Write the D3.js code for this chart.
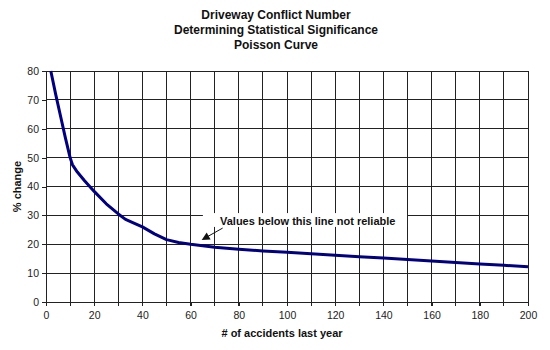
<!DOCTYPE html>
<html><head><meta charset="utf-8">
<script src="https://cdn.jsdelivr.net/npm/d3@7"></script>
<style>body{margin:0;background:#fff;} text{font-family:"Liberation Sans",Arial,sans-serif;}</style>
</head><body>
<svg id="c" width="550" height="350"></svg>
<script>
const titleLines = ["Driveway Conflict Number","Determining Statistical Significance","Poisson Curve"];
const xLabel = "# of accidents last year";
const yLabel = "% change";
const annotationText = "Values below this line not reliable";
const accidents = [2,4,6,8,10,11,13,16,20,25,30,33,36,40,45,50,55,60,70,80,90,100,110,120,130,140,150,160,170,180,190,200];
const pctChange = [80,72,64.5,57,50,47.5,45,42,38.3,34,30.5,28.6,27.5,26,23.6,21.6,20.6,20,19,18.3,17.7,17.2,16.7,16.2,15.7,15.2,14.7,14.2,13.7,13.2,12.7,12.2];
const xTicks = d3.range(0,201,20);
const yTicks = d3.range(0,81,10);
const xGrid = d3.range(0,201,10);
const yGrid = d3.range(0,81,10);

const svg = d3.select("#c");
const x = d3.scaleLinear().domain([0,200]).range([46,528]);
const y = d3.scaleLinear().domain([0,80]).range([302,71]);

// title
svg.append("g").selectAll("text").data(titleLines).join("text")
  .attr("x",276).attr("y",(d,i)=>19+i*15).attr("text-anchor","middle")
  .attr("font-size",12).attr("font-weight","bold").attr("fill","#111").text(d=>d);

// grid
const g = svg.append("g");
g.selectAll(".vg").data(xGrid.slice(1)).join("line")
  .attr("x1",d=>x(d)).attr("x2",d=>x(d)).attr("y1",y(80)).attr("y2",y(0))
  .attr("stroke","#222").attr("stroke-width",1).attr("shape-rendering","crispEdges");
g.selectAll(".hg").data(yGrid.slice(1)).join("line")
  .attr("x1",x(0)).attr("x2",x(200)).attr("y1",d=>y(d)).attr("y2",d=>y(d))
  .attr("stroke","#222").attr("stroke-width",1).attr("shape-rendering","crispEdges");

// axes
const xa = svg.append("g").attr("transform",`translate(0,${y(0)})`)
  .call(d3.axisBottom(x).tickValues(xTicks).tickSize(4).tickPadding(6).tickSizeOuter(0));
const ya = svg.append("g").attr("transform",`translate(${x(0)},0)`)
  .call(d3.axisLeft(y).tickValues(yTicks).tickSize(4).tickPadding(3).tickSizeOuter(0));
[xa,ya].forEach(a=>{
  a.selectAll("text").attr("font-size",10.5).attr("fill","#222").attr("font-family","Liberation Sans, Arial, sans-serif");
  a.selectAll("line,path").attr("stroke","#222").attr("shape-rendering","crispEdges");
});
// minor x ticks at every 10
svg.append("g").selectAll("line").data(xGrid).join("line")
  .attr("x1",d=>x(d)).attr("x2",d=>x(d)).attr("y1",y(0)).attr("y2",y(0)+4)
  .attr("stroke","#222").attr("shape-rendering","crispEdges");

// labels
svg.append("text").attr("x",282).attr("y",337).attr("text-anchor","middle")
  .attr("font-size",11).attr("font-weight","bold").attr("fill","#111").text(xLabel);
svg.append("text").attr("transform",`translate(21,${(y(0)+y(80))/2}) rotate(-90)`)
  .attr("text-anchor","middle").attr("font-size",11).attr("font-weight","bold").attr("fill","#111").text(yLabel);

// curve
const line = d3.line().x((d,i)=>x(accidents[i])).y(d=>y(d));
svg.append("path").datum(pctChange).attr("d",line)
  .attr("fill","none").attr("stroke","#000080").attr("stroke-width",3).attr("stroke-linejoin","round");

// annotation
svg.append("rect").attr("x",x(65.1)).attr("y",y(30.8)).attr("width",x(149.8)-x(65.1)).attr("height",y(26)-y(30.8)).attr("fill","#fff");
svg.append("text").attr("x",x(72.2)).attr("y",y(28)+4).attr("font-size",11).attr("font-weight","bold").attr("fill","#111").text(annotationText);
const x1 = x(73.3), y1 = y(25.6), x2 = x(64.6), y2 = y(21.5);
const ang = Math.atan2(y2-y1,x2-x1);
svg.append("line").attr("x1",x1).attr("y1",y1).attr("x2",x2 - 6*Math.cos(ang)).attr("y2",y2 - 6*Math.sin(ang)).attr("stroke","#111").attr("stroke-width",1);
const hl = 8, hw = 4;
const bx = x2 - hl*Math.cos(ang), by = y2 - hl*Math.sin(ang);
svg.append("path").attr("d",`M${x2},${y2}L${bx + hw*Math.sin(ang)},${by - hw*Math.cos(ang)}L${bx - hw*Math.sin(ang)},${by + hw*Math.cos(ang)}Z`).attr("fill","#111");
</script>
</body></html>
